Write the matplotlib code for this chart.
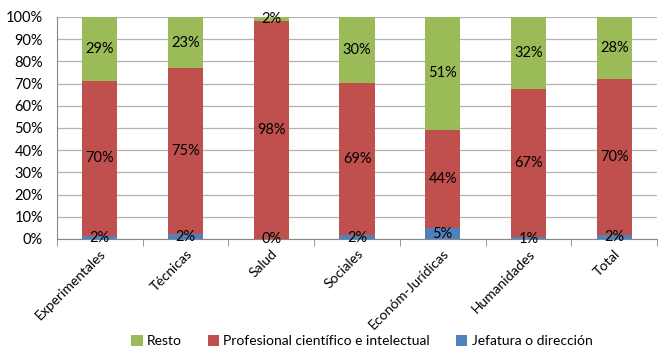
import matplotlib
matplotlib.use("Agg")
import matplotlib.pyplot as plt
import numpy as np

categories = ["Experimentales", "Técnicas", "Salud", "Sociales", "Económ-Jurídicas", "Humanidades", "Total"]
jefatura = [1.5, 2.3, 0.2, 1.8, 5.0, 1.0, 2.0]
profesional = [69.6, 74.6, 97.8, 68.6, 44.2, 66.6, 70.0]
resto = [28.9, 23.1, 2.0, 29.6, 50.8, 32.4, 28.0]
jef_labels = ["2%", "2%", "0%", "2%", "5%", "1%", "2%"]
prof_labels = ["70%", "75%", "98%", "69%", "44%", "67%", "70%"]
resto_labels = ["29%", "23%", "2%", "30%", "51%", "32%", "28%"]

plt.rcParams['font.family'] = ['Lato', 'DejaVu Sans']

fig = plt.figure(figsize=(6.58, 3.49), dpi=100)
ax = fig.add_axes([57/658, 1-239/349, 600/658, 222/349])

x = np.arange(len(categories))
j = np.array(jefatura); p = np.array(profesional); r = np.array(resto)
tot = j + p + r
j, p, r = j/tot*100, p/tot*100, r/tot*100
w = 0.41
cb, cr, cg = "#4F81BD", "#C0504D", "#9BBB59"
b1 = ax.bar(x, j, w, color=cb, label="Jefatura o dirección", zorder=3)
b2 = ax.bar(x, p, w, bottom=j, color=cr, label="Profesional científico e intelectual", zorder=3)
b3 = ax.bar(x, r, w, bottom=j+p, color=cg, label="Resto", zorder=3)

for i in range(len(x)):
    ax.text(x[i], j[i]/2 - 0.3, jef_labels[i], ha="center", va="center", fontsize=10.5, zorder=4)
    ax.text(x[i], j[i] + p[i]/2, prof_labels[i], ha="center", va="center", fontsize=10.5, zorder=4)
    ax.text(x[i], j[i] + p[i] + r[i]/2, resto_labels[i], ha="center", va="center", fontsize=10.5, zorder=4)

ax.set_xlim(-0.5, len(x)-0.5)
ax.set_ylim(0, 100)
ax.set_yticks(np.arange(0, 101, 10))
ax.set_yticklabels([f"{v}%" for v in range(0, 101, 10)], fontsize=10.5)
ax.yaxis.grid(True, color="#B3B3B3", linewidth=0.9, zorder=0)
ax.set_axisbelow(True)
ax.tick_params(axis="y", length=0, pad=10)

ax.set_xticks(x)
ax.set_xticklabels(categories, rotation=45, ha="right", rotation_mode="anchor", fontsize=10)
ax.tick_params(axis="x", length=0, pad=6)
ax.set_xticks(np.arange(-0.5, len(x)), minor=True)
ax.tick_params(axis="x", which="minor", length=5, color="#888888", direction="out")

for s in ["top", "right"]:
    ax.spines[s].set_visible(False)
ax.spines["left"].set_color("#888888")
ax.spines["bottom"].set_color("#888888")

handles = [b3, b2, b1]
fig.legend(handles, [h.get_label() for h in handles], loc="center", bbox_to_anchor=(0.55, 1-341/349),
           ncol=3, frameon=False, fontsize=10, handlelength=0.8, handleheight=0.8,
           columnspacing=1.9, handletextpad=0.3)

fig.savefig("out.png", dpi=100)
